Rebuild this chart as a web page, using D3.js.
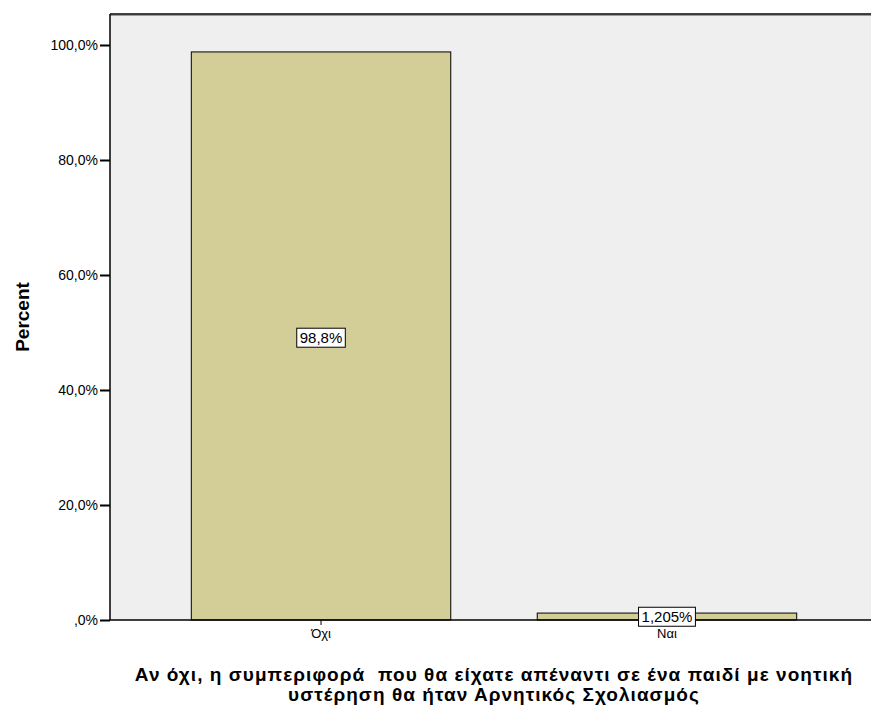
<!DOCTYPE html>
<html>
<head>
<meta charset="utf-8">
<script src="https://cdn.jsdelivr.net/npm/d3@7"></script>
<style>
  body { margin: 0; background: #fff; }
  svg { display: block; font-family: Arial, "Liberation Sans", sans-serif; }
</style>
</head>
<body>
<svg id="chart" width="871" height="709"></svg>
<script>
// categories and values (percent)
const categories = ['Όχι', 'Ναι'];
const percents = [98.795, 1.205];
const barLabels = ['98,8%', '1,205%'];
const yTicks = [0, 20, 40, 60, 80, 100];
const yTickLabels = [',0%', '20,0%', '40,0%', '60,0%', '80,0%', '100,0%'];
const xTitleLines = ['Αν όχι, η συμπεριφορά  που θα είχατε απέναντι σε ένα παιδί με νοητική', 'υστέρηση θα ήταν Αρνητικός Σχολιασμός'];

const svg = d3.select('#chart');
const plotLeft = 110, plotTop = 14, plotRight = 878, plotBottom = 620;

const x = d3.scaleBand()
    .domain(categories)
    .range([plotLeft, plotRight])
    .paddingInner(0.25)
    .paddingOuter(0.235);

const y = d3.scaleLinear()
    .domain([0, 100])
    .range([plotBottom, 45]);

// plot background
svg.append('rect')
    .attr('x', plotLeft).attr('y', plotTop)
    .attr('width', plotRight - plotLeft).attr('height', plotBottom - plotTop)
    .attr('fill', '#efefef');

// top border with soft shadow
svg.append('line')
    .attr('x1', plotLeft).attr('x2', plotRight)
    .attr('y1', plotTop + 1.5).attr('y2', plotTop + 1.5)
    .attr('stroke', '#9a9a9a').attr('stroke-width', 1);
svg.append('line')
    .attr('x1', plotLeft).attr('x2', plotRight)
    .attr('y1', plotTop).attr('y2', plotTop)
    .attr('stroke', '#000').attr('stroke-width', 1.5);

// bars
svg.selectAll('rect.bar')
    .data(percents)
    .join('rect')
    .attr('class', 'bar')
    .attr('x', (d, i) => x(categories[i]))
    .attr('y', d => y(d))
    .attr('width', x.bandwidth())
    .attr('height', d => y(0) - y(d))
    .attr('fill', '#d3ce98')
    .attr('stroke', '#000')
    .attr('stroke-width', 1);

// y axis
const yAxis = d3.axisLeft(y)
    .tickValues(yTicks)
    .tickSize(10)
    .tickPadding(2)
    .tickFormat((d, i) => yTickLabels[i]);
const gy = svg.append('g')
    .attr('transform', `translate(${plotLeft},0)`)
    .call(yAxis);
gy.select('.domain').attr('d', `M0,${plotTop}V${plotBottom}`).attr('stroke', '#000').attr('stroke-width', 1.5);
gy.selectAll('.tick line').attr('stroke', '#000').attr('stroke-width', 2);
gy.selectAll('.tick text').attr('font-size', 14).attr('fill', '#000')
    .attr('font-family', 'Arial, "Liberation Sans", sans-serif');

// x axis
const xAxis = d3.axisBottom(x).tickSize(5).tickPadding(4);
const gx = svg.append('g')
    .attr('transform', `translate(0,${plotBottom})`)
    .call(xAxis);
gx.select('.domain').attr('d', `M${plotLeft},0H${plotRight}`).attr('stroke', '#000').attr('stroke-width', 1.5);
gx.selectAll('.tick line').attr('stroke', '#000');
gx.selectAll('.tick text').attr('font-size', 13).attr('fill', '#000')
    .attr('font-family', 'Arial, "Liberation Sans", sans-serif');

// value labels
const labelBoxes = svg.selectAll('g.vlabel')
    .data(percents)
    .join('g')
    .attr('class', 'vlabel')
    .attr('transform', (d, i) => {
        const cx = x(categories[i]) + x.bandwidth() / 2;
        const cy = d > 5 ? (y(d) + y(0)) / 2 + 2 : y(0) - 3;
        return `translate(${cx},${cy})`;
    });
labelBoxes.append('text')
    .attr('text-anchor', 'middle')
    .attr('dy', '0.35em')
    .attr('font-size', 15)
    .text((d, i) => barLabels[i]);
labelBoxes.each(function() {
    const g = d3.select(this);
    const bb = g.select('text').node().getBBox();
    g.insert('rect', 'text')
        .attr('x', bb.x - 3).attr('y', bb.y - 1)
        .attr('width', bb.width + 6).attr('height', bb.height + 2)
        .attr('fill', '#fff').attr('stroke', '#000').attr('stroke-width', 1);
});

// y title
svg.append('text')
    .attr('transform', `translate(29,${(plotTop + plotBottom) / 2}) rotate(-90)`)
    .attr('text-anchor', 'middle')
    .attr('font-size', 19)
    .attr('font-weight', 'bold')
    .text('Percent');

// x title (keeps the double space of the original label)
svg.append('text')
    .attr('x', 494)
    .attr('y', 681)
    .attr('text-anchor', 'middle')
    .attr('font-size', 19)
    .attr('font-weight', 'bold')
    .attr('letter-spacing', 1.05)
    .style('white-space', 'pre')
    .selectAll('tspan')
    .data(xTitleLines)
    .join('tspan')
    .attr('x', 494)
    .attr('dy', (d, i) => i === 0 ? 0 : 20)
    .text(d => d);
</script>
</body>
</html>
